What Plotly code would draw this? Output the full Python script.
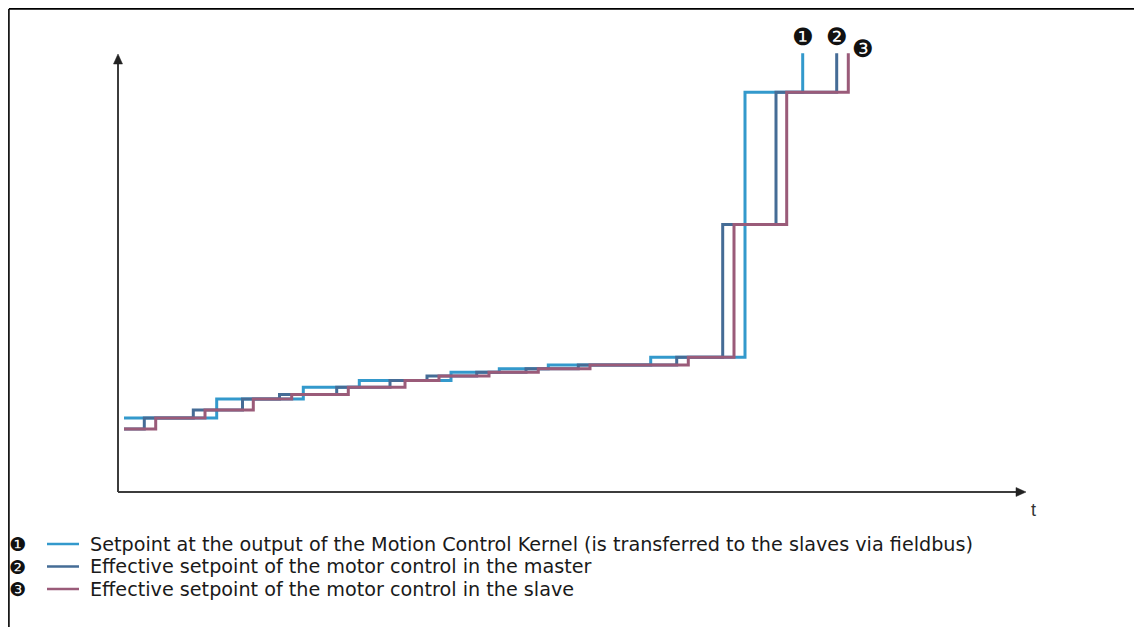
import plotly.graph_objects as go

# ---------------- data (time units, setpoint units) ----------------
t_setpoint = [6, 98.7, 185.3, 241.3, 333, 381.3, 430.3, 532.7, 627, 684.7]
v_setpoint = [74, 93, 104.7, 111.5, 119.7, 123.3, 127, 134.7, 399.7, 438.7]

t_master = [6, 26.3, 75.3, 124.5, 161.5, 218.7, 272, 309, 358.7, 408, 460.3, 558.7, 604.7, 658, 718.7]
v_master = [63, 74, 82, 93, 97.5, 104.7, 111.5, 116, 119.7, 123.3, 127, 134.7, 267.5, 399.7, 438.7]

t_slave = [6, 37.7, 87, 135.3, 173.7, 230.3, 287, 321, 371, 420.3, 472, 570.3, 616, 668.7, 730.3]
v_slave = [63, 74, 82, 93, 97.5, 104.7, 111.5, 116, 119.7, 123.3, 127, 134.7, 267.5, 399.7, 438.7]

series_names = [
    "Setpoint at the output of the Motion Control Kernel (is transferred to the slaves via fieldbus)",
    "Effective setpoint of the motor control in the master",
    "Effective setpoint of the motor control in the slave",
]
series_marks = ["\u2776", "\u2777", "\u2778"]
series_colors = ["#3399CC", "#456C96", "#9A5B79"]
axis_label_t = "t"

# ---------------- layout geometry ----------------
W, H = 1142, 627
OFF = 8  # page offset of the figure inside the browser window
L, R, T, B = 110, 125, 44, 143
PW, PH = W - L - R, H - T - B
X_MAX, Y_MAX = PW, PH


def px_x(px):
    """screen x -> paper x"""
    return (px - OFF - L) / PW


def px_y(py):
    """screen y -> paper y"""
    return (H - B - (py - OFF)) / PH


fig = go.Figure()
for t, v, name, col in zip([t_setpoint, t_master, t_slave],
                           [v_setpoint, v_master, v_slave],
                           series_names, series_colors):
    fig.add_trace(go.Scatter(x=t, y=v, mode="lines", line_shape="hv",
                             line=dict(color=col, width=3), name=name,
                             showlegend=False, hoverinfo="skip"))

axis_col = "#3C3C3C"
shapes = []
# axis lines
shapes.append(dict(type="line", xref="paper", yref="paper",
                   x0=0, y0=0, x1=px_x(1018), y1=0,
                   line=dict(color=axis_col, width=2)))
shapes.append(dict(type="line", xref="paper", yref="paper",
                   x0=0, y0=0, x1=0, y1=px_y(62),
                   line=dict(color=axis_col, width=2)))
# arrowheads
shapes.append(dict(type="path", xref="paper", yref="paper",
                   path=f"M {px_x(1016)} {px_y(487.5)} L {px_x(1026)} {px_y(492)} L {px_x(1016)} {px_y(496.5)} Z",
                   fillcolor="#222222", line=dict(color="#222222", width=0.5)))
shapes.append(dict(type="path", xref="paper", yref="paper",
                   path=f"M {px_x(113.5)} {px_y(64)} L {px_x(118)} {px_y(54)} L {px_x(122.5)} {px_y(64)} Z",
                   fillcolor="#222222", line=dict(color="#222222", width=0.5)))
# frame
FL, FT, FR = 8.9, 8.9, 1140
shapes.append(dict(type="line", xref="paper", yref="paper",
                   x0=px_x(FL), y0=px_y(640), x1=px_x(FL), y1=px_y(FT),
                   line=dict(color="#000000", width=1.6)))
shapes.append(dict(type="line", xref="paper", yref="paper",
                   x0=px_x(FL), y0=px_y(FT), x1=px_x(FR), y1=px_y(FT),
                   line=dict(color="#000000", width=1.6)))
shapes.append(dict(type="line", xref="paper", yref="paper",
                   x0=px_x(FR), y0=px_y(FT), x1=px_x(FR), y1=px_y(640),
                   line=dict(color="#000000", width=1.6)))

annotations = []
annotations.append(dict(text=axis_label_t, xref="paper", yref="paper",
                        x=px_x(1033), y=px_y(510), showarrow=False,
                        font=dict(family="Liberation Sans", size=18, color="#333333"),
                        xanchor="center", yanchor="middle"))

# number marks at end of each series
end_shift = [(0, 16), (0, 16), (15, 4)]
for t, v, mk, (dx, dy) in zip([t_setpoint, t_master, t_slave],
                              [v_setpoint, v_master, v_slave],
                              series_marks, end_shift):
    annotations.append(dict(text=mk, x=t[-1], y=v[-1], xref="x", yref="y",
                            xshift=dx, yshift=dy, showarrow=False,
                            font=dict(family="DejaVu Sans", size=24, color="#111111"),
                            xanchor="center", yanchor="middle"))

# legend
leg_y = [544, 566.5, 589]
for yy, mk, name, col in zip(leg_y, series_marks, series_names, series_colors):
    annotations.append(dict(text=mk, xref="paper", yref="paper", x=px_x(17), y=px_y(yy),
                            showarrow=False, xanchor="center", yanchor="middle",
                            font=dict(family="DejaVu Sans", size=19, color="#111111")))
    shapes.append(dict(type="line", xref="paper", yref="paper",
                       x0=px_x(47), x1=px_x(79), y0=px_y(yy), y1=px_y(yy),
                       line=dict(color=col, width=2.5)))
    annotations.append(dict(text=name, xref="paper", yref="paper", x=px_x(88), y=px_y(yy),
                            showarrow=False, xanchor="left", yanchor="middle",
                            font=dict(family="DejaVu Sans", size=19.2, color="#1A1A1A")))

fig.update_layout(
    width=W, height=H,
    margin=dict(l=L, r=R, t=T, b=B, autoexpand=False),
    paper_bgcolor="white", plot_bgcolor="white",
    xaxis=dict(range=[0, X_MAX], visible=False, fixedrange=True),
    yaxis=dict(range=[0, Y_MAX], visible=False, fixedrange=True),
    shapes=shapes, annotations=annotations,
    showlegend=False,
)
fig.write_html("out.html")
